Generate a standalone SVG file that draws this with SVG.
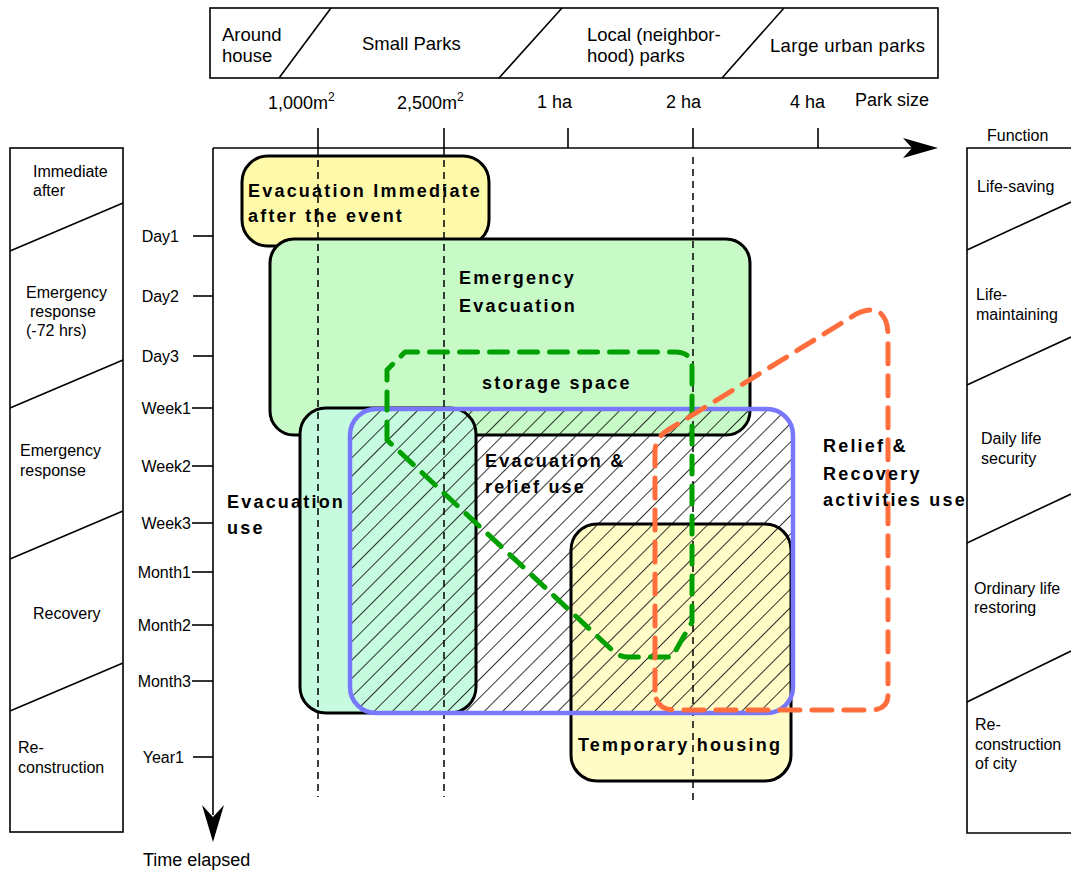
<svg xmlns="http://www.w3.org/2000/svg" width="1071" height="875" viewBox="0 0 1071 875">
<style>
.t{font-family:"Liberation Sans",Arial,sans-serif;fill:#000}
.top{font-size:18.5px}
.ax{font-size:18px}
.tm{font-size:16px}
.side{font-size:16px}
.b{font-family:"Liberation Sans",Arial,sans-serif;font-weight:bold;font-size:18px;letter-spacing:2.2px;fill:#000}
.box{stroke:#000;stroke-width:3}
.thin{stroke:#000;stroke-width:1.6;fill:none}
.vd{stroke:#000;stroke-width:1.5;stroke-dasharray:7 5;fill:none}
</style>
<defs>
<pattern id="hatch" width="13" height="13" patternUnits="userSpaceOnUse" patternTransform="rotate(45)">
<line x1="0" y1="0" x2="0" y2="13" stroke="#000" stroke-width="1.6"/>
</pattern>
</defs>

<g id="park-category-bar">
<rect x="210" y="8" width="728" height="70" class="thin"/>
<line x1="279" y1="78" x2="331" y2="8" class="thin"/>
<line x1="499" y1="78" x2="562" y2="8" class="thin"/>
<line x1="722" y1="78" x2="784" y2="8" class="thin"/>
<text class="t top" x="222" y="41">Around</text>
<text class="t top" x="222" y="62">house</text>
<text class="t top" x="362" y="50">Small Parks</text>
<text class="t top" x="587" y="41">Local (neighbor-</text>
<text class="t top" x="587" y="62">hood) parks</text>
<text class="t top" x="770" y="52" textLength="155">Large urban parks</text>
</g>

<g id="park-size-axis">
<line x1="213" y1="148" x2="912" y2="148" class="thin"/>
<path d="M938,148 L903,138 L912,148 L903,158 Z" fill="#000"/>
<line x1="318" y1="128" x2="318" y2="148" class="thin"/>
<line x1="444" y1="128" x2="444" y2="148" class="thin"/>
<line x1="568" y1="128" x2="568" y2="148" class="thin"/>
<line x1="693" y1="128" x2="693" y2="148" class="thin"/>
<line x1="818" y1="128" x2="818" y2="148" class="thin"/>
<text class="t ax" x="268" y="109">1,000m<tspan font-size="12" dy="-8">2</tspan></text>
<text class="t ax" x="397" y="109">2,500m<tspan font-size="12" dy="-8">2</tspan></text>
<text class="t ax" x="537" y="108">1 ha</text>
<text class="t ax" x="666" y="108">2 ha</text>
<text class="t ax" x="790" y="108">4 ha</text>
<text class="t ax" x="855" y="106">Park size</text>
</g>

<g id="time-axis">
<line x1="213" y1="148" x2="213" y2="815" class="thin"/>
<path d="M213,842 L202,805 L213,817 L224,805 Z" fill="#000"/>
<text class="t ax" x="143" y="866">Time elapsed</text>
<g class="thin">
<line x1="193" y1="236" x2="213" y2="236"/>
<line x1="193" y1="296" x2="213" y2="296"/>
<line x1="193" y1="356" x2="213" y2="356"/>
<line x1="192" y1="408" x2="213" y2="408"/>
<line x1="192" y1="466" x2="213" y2="466"/>
<line x1="192" y1="523" x2="213" y2="523"/>
<line x1="192" y1="572" x2="213" y2="572"/>
<line x1="192" y1="625" x2="213" y2="625"/>
<line x1="192" y1="681" x2="213" y2="681"/>
<line x1="193" y1="757" x2="213" y2="757"/>
</g>
<g class="t tm" text-anchor="end">
<text x="179" y="242">Day1</text>
<text x="179" y="302">Day2</text>
<text x="179" y="362">Day3</text>
<text x="191" y="414">Week1</text>
<text x="191" y="472">Week2</text>
<text x="191" y="529">Week3</text>
<text x="191" y="578">Month1</text>
<text x="191" y="631">Month2</text>
<text x="191" y="687">Month3</text>
<text x="184" y="763">Year1</text>
</g>
</g>

<g id="phase-column">
<rect x="10" y="148" width="113" height="684" class="thin"/>
<line x1="10" y1="251" x2="123" y2="203" class="thin"/>
<line x1="10" y1="408" x2="123" y2="360" class="thin"/>
<line x1="10" y1="559" x2="123" y2="511" class="thin"/>
<line x1="10" y1="711" x2="123" y2="663" class="thin"/>
<g class="t side">
<text x="33" y="177">Immediate</text>
<text x="33" y="196">after</text>
<text x="26" y="298">Emergency</text>
<text x="30" y="317">response</text>
<text x="26" y="336">(-72 hrs)</text>
<text x="20" y="456">Emergency</text>
<text x="20" y="476">response</text>
<text x="33" y="619">Recovery</text>
<text x="18" y="753">Re-</text>
<text x="18" y="773">construction</text>
</g>
</g>

<g id="function-column">
<text class="t side" x="987" y="141">Function</text>
<polyline points="1071,148 967,148 967,833 1071,833" class="thin"/>
<line x1="967" y1="250" x2="1071" y2="202" class="thin"/>
<line x1="967" y1="385" x2="1071" y2="337" class="thin"/>
<line x1="967" y1="543" x2="1071" y2="494" class="thin"/>
<line x1="967" y1="702" x2="1071" y2="651" class="thin"/>
<g class="t side">
<text x="977" y="192">Life-saving</text>
<text x="976" y="300">Life-</text>
<text x="976" y="320">maintaining</text>
<text x="981" y="444">Daily life</text>
<text x="981" y="464">security</text>
<text x="974" y="594">Ordinary life</text>
<text x="974" y="613">restoring</text>
<text x="975" y="730">Re-</text>
<text x="975" y="750">construction</text>
<text x="975" y="769">of city</text>
</g>
</g>

<g id="evac-immediate">
<rect x="242" y="156" width="247" height="90" rx="26" fill="#fffaaa" class="box"/>
</g>
<g id="emergency-evacuation">
<rect x="270" y="239" width="480" height="196" rx="24" fill="#c8fac8" class="box"/>
</g>
<g id="evacuation-use">
<rect x="300" y="408" width="176" height="305" rx="26" fill="#c6fbe0" class="box"/>
</g>
<g id="temporary-housing">
<rect x="571" y="524" width="220" height="257" rx="26" fill="#fffcc8" class="box"/>
</g>

<g id="size-guides">
<line x1="318" y1="148" x2="318" y2="797" class="vd"/>
<line x1="444" y1="148" x2="444" y2="797" class="vd"/>
<line x1="693" y1="157" x2="693" y2="803" class="vd"/>
</g>

<g id="evacuation-relief">
<rect x="350" y="409" width="443" height="304" rx="26" fill="url(#hatch)" stroke="#7878ff" stroke-width="4.5"/>
</g>

<g id="connectors">
<path id="storage-space" d="M387,440 L387,370 L405,352 L675,352 Q692,352 692,368 L692,622 L672,657 L628,657 Q619,657 612,650 Z" fill="none" stroke="#00a000" stroke-width="5" stroke-dasharray="18 12" stroke-linecap="round" stroke-linejoin="round"/>
<path id="relief-recovery" d="M655,690 L655,452 Q655,438 668,430 L850,318 Q862,309 875,310 Q888,315 888,335 L888,695 Q888,710 870,710 L675,710 Q655,710 655,690 Z" fill="none" stroke="#ff6e3c" stroke-width="5" stroke-dasharray="20 12" stroke-linecap="round" stroke-linejoin="round"/>
</g>

<g id="labels">
<text class="b" x="248" y="197">Evacuation Immediate</text>
<text class="b" x="248" y="222">after the event</text>
<text class="b" x="459" y="284">Emergency</text>
<text class="b" x="459" y="312">Evacuation</text>
<text class="b" x="482" y="389">storage space</text>
<text class="b" x="227" y="508">Evacuation</text>
<text class="b" x="227" y="534">use</text>
<text class="b" x="485" y="467">Evacuation &amp;</text>
<text class="b" x="485" y="493">relief use</text>
<text class="b" x="823" y="452">Relief &amp;</text>
<text class="b" x="823" y="480">Recovery</text>
<text class="b" x="823" y="506">activities use</text>
<text class="b" x="578" y="751">Temporary housing</text>
</g>
</svg>
